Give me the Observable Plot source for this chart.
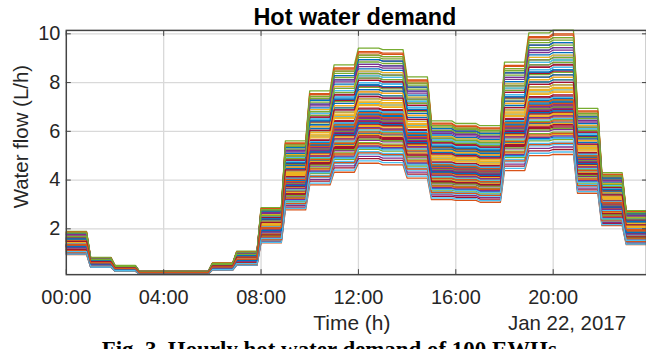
<!DOCTYPE html>
<html>
<head>
<meta charset="utf-8">
<script src="https://cdn.jsdelivr.net/npm/d3@7"></script>
<script src="https://cdn.jsdelivr.net/npm/@observablehq/plot@0.6"></script>
<style>
  html, body { margin: 0; padding: 0; background: #fff; overflow: hidden; }
  #wrap { position: relative; width: 646px; height: 349px; overflow: hidden; background: #fff; }
</style>
</head>
<body>
<div id="wrap"></div>
<script>
// ---- data ----
const hours = [0,1,2,3,4,5,6,7,8,9,10,11,12,13,14,15,16,17,18,19,20,21,22,23];
// upper envelope (largest EWH profile), L/h
const topFlow = [1.89,0.83,0.50,0.26,0.26,0.26,0.60,1.08,2.87,5.61,7.66,8.73,9.41,9.35,8.23,6.43,6.32,6.23,8.84,10.04,10.15,6.94,4.30,2.75];
// lower envelope (smallest EWH profile), L/h
const bottomFlow = [0.94,0.42,0.26,0.15,0.15,0.15,0.30,0.50,1.42,2.78,3.80,4.32,4.69,4.62,4.08,3.20,3.17,3.09,4.39,5.00,5.05,3.46,2.13,1.35];
// relative position of each of the 100 EWHs between the envelopes
const ewhShare = [
  0.56,0.00,0.32,0.74,1.00,0.42,0.24,0.86,0.97,0.16,
  0.38,0.66,0.10,0.48,0.82,0.36,0.60,0.20,0.92,0.46,
  0.04,0.70,0.34,0.40,0.78,0.28,0.52,0.90,0.14,0.62,
  0.39,0.06,0.76,0.44,0.22,0.68,0.94,0.33,0.58,0.12,
  0.80,0.41,0.26,0.64,0.50,0.37,0.88,0.08,0.72,0.43,
  0.30,0.54,0.84,0.18,0.35,0.67,0.45,0.96,0.25,0.39,
  0.74,0.02,0.47,0.60,0.31,0.80,0.15,0.44,0.70,0.36,
  0.90,0.27,0.56,0.40,0.21,0.76,0.34,0.64,0.09,0.51,
  0.86,0.38,0.29,0.72,0.42,0.17,0.62,0.37,0.94,0.46,
  0.23,0.68,0.41,0.53,0.31,0.78,0.13,0.58,0.35,0.44
];
const xTickHours = [0,4,8,12,16,20];
const xTickLabels = ["00:00","04:00","08:00","12:00","16:00","20:00"];
const yTicks = [2,4,6,8,10];
const colorOrder = ["#0072BD","#D95319","#EDB120","#7E2F8E","#77AC30","#4DBEEE","#A2142F"];

// sample every 10 min: value held for the hour, last sample at hh:50
const stepEnd = 5/6;
const points = [];
ewhShare.forEach((s, i) => {
  hours.forEach((h, k) => {
    const v = bottomFlow[k] + s * (topFlow[k] - bottomFlow[k]);
    points.push({series: i, t: h, v});
    points.push({series: i, t: h + stepEnd, v});
  });
});

const axisColor = "#444";
const textColor = "#262626";

const chart = Plot.plot({
  width: 648,
  height: 349,
  marginLeft: 66,
  marginRight: 0,
  marginTop: 30,
  marginBottom: 74,
  x: {domain: [0, 23 + stepEnd]},
  y: {domain: [0.12, 10.14]},
  style: {fontFamily: "'Liberation Sans', Arial, sans-serif", fontSize: "20px", color: textColor, background: "#fff", overflow: "visible"},
  marks: [
    Plot.ruleX(xTickHours.slice(1), {stroke: "#d9d9d9", strokeWidth: 1.3}),
    Plot.ruleY(yTicks, {stroke: "#d9d9d9", strokeWidth: 1.3}),
    Plot.line(points, {x: "t", y: "v", z: "series", stroke: d => colorOrder[d.series % 7], strokeWidth: 1.3}),
    Plot.frame({stroke: axisColor, strokeWidth: 1.5}),
    Plot.axisX(xTickHours, {anchor: "bottom", tickSize: 0, tickPadding: 15, tickFormat: (d, i) => xTickLabels[i], label: null, fontSize: 20, fill: textColor}),
    Plot.axisY(yTicks, {anchor: "left", tickSize: 0, tickPadding: 6, label: null, fontSize: 20, fill: textColor}),
    Plot.axisX(xTickHours, {anchor: "bottom", tickSize: -5, tickFormat: () => "", label: null, stroke: axisColor}),
    Plot.axisX(xTickHours, {anchor: "top", tickSize: -5, tickFormat: () => "", label: null, stroke: axisColor}),
    Plot.axisY(yTicks, {anchor: "left", tickSize: -5, tickFormat: () => "", label: null, stroke: axisColor}),
    Plot.axisY(yTicks, {anchor: "right", tickSize: -5, tickFormat: () => "", label: null, stroke: axisColor})
  ]
});

document.getElementById("wrap").appendChild(chart);

const svg = d3.select(chart);
const ff = "'Liberation Sans', Arial, sans-serif";
svg.append("text").attr("x", 356).attr("y", 25.5).attr("text-anchor", "middle")
  .attr("font-family", ff).attr("font-size", 23.5).attr("font-weight", "bold").attr("fill", "#000")
  .text("Hot water demand");
svg.append("text").attr("transform", "translate(28,137) rotate(-90)").attr("text-anchor", "middle")
  .attr("font-family", ff).attr("font-size", 20.5).attr("fill", textColor)
  .text("Water flow (L/h)");
svg.append("text").attr("x", 353).attr("y", 331).attr("text-anchor", "middle")
  .attr("font-family", ff).attr("font-size", 21).attr("fill", textColor)
  .text("Time (h)");
svg.append("text").attr("x", 628).attr("y", 331).attr("text-anchor", "end")
  .attr("font-family", ff).attr("font-size", 20.5).attr("fill", textColor)
  .text("Jan 22, 2017");
svg.append("text").attr("x", 102).attr("y", 358).attr("text-anchor", "start")
  .attr("font-family", "'Liberation Serif', 'Times New Roman', serif").attr("font-size", 23).attr("font-weight", "bold").attr("fill", "#000")
  .text("Fig. 3. Hourly hot water demand of 100 EWHs");
</script>
</body>
</html>
